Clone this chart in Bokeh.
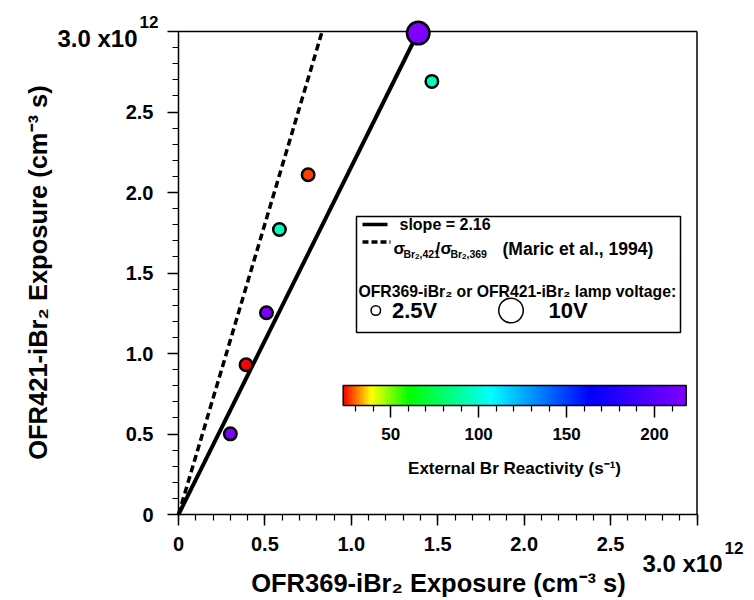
import numpy as np
from bokeh.plotting import figure
from bokeh.models import (ColumnDataSource, LinearColorMapper, Label, FixedTicker,
                          ColorBar, Range1d, PrintfTickFormatter)
from bokeh.embed import file_html
from bokeh.resources import INLINE

# ---------------- data (exposures in units of 1e12 cm^-3 s) ----------------
ofr369_exposure = [0.300, 0.391, 0.509, 0.584, 0.750, 1.387, 1.466]
ofr421_exposure = [0.501, 0.930, 1.253, 1.770, 2.110, 2.990, 2.690]
external_br_reactivity = [217, 23, 217, 95, 27, 217, 95]
lamp_voltage = [2.5, 2.5, 2.5, 2.5, 2.5, 10.0, 2.5]

fit_slope = 2.16
maric_ratio = 3.61

axis_max = 3.0
axis_ticks = [0, 0.5, 1.0, 1.5, 2.0, 2.5, 3.0]
axis_tick_labels = ["0", "0.5", "1.0", "1.5", "2.0", "2.5", ""]
axis_minor_ticks = [round(0.1 * i, 1) for i in range(31)]

cbar_ticks = [50, 100, 150, 200]
cbar_minor_ticks = [30, 40, 60, 70, 80, 90, 110, 120, 130, 140, 160, 170, 180, 190, 210]
cbar_low, cbar_high = 23, 218

legend_voltages = [2.5, 10.0]

# ---------------- style / layout ----------------
FONT = "Liberation Sans"
W, H = 754, 600
FL, FB = 178.0, 514.0          # pixel of data origin
XS = (696.5 - FL) / axis_max   # px per unit (x)
YS = (FB - 31.0) / axis_max    # px per unit (y)
marker_size = {2.5: 12.5, 10.0: 22.5}

anchors = [(0.0, (255, 0, 0)), (0.08, (255, 255, 0)), (0.19, (0, 255, 0)),
           (0.43, (0, 255, 255)), (0.72, (0, 0, 255)), (1.0, (128, 0, 255))]


def build_palette(n=256):
    pos = [a[0] for a in anchors]
    cols = np.array([a[1] for a in anchors], dtype=float)
    out = []
    for t in np.linspace(0, 1, n):
        rgb = [np.interp(t, pos, cols[:, k]) for k in range(3)]
        out.append("#%02x%02x%02x" % tuple(int(round(c)) for c in rgb))
    return out


palette = build_palette()
mapper = LinearColorMapper(palette=palette, low=cbar_low, high=cbar_high)

# the frame covers the whole canvas; axes are pinned at the data origin
p = figure(width=W, height=H,
           x_range=Range1d(-FL / XS, (W - FL) / XS),
           y_range=Range1d(-(H - FB) / YS, FB / YS),
           output_backend="svg", toolbar_location=None,
           min_border_left=0, min_border_right=0, min_border_top=0, min_border_bottom=0)


def dx(px):
    return (px - FL) / XS


def dy(py):
    return (FB - py) / YS


def lab(text, px, py, size, align="left", baseline="middle", angle=0):
    p.add_layout(Label(x=dx(px), y=dy(py), text=text, text_font=FONT,
                       text_font_style="bold", text_font_size=f"{size}px",
                       text_align=align, text_baseline=baseline, text_color="black",
                       angle=angle, angle_units="deg"))


# axes
p.xgrid.visible = False
p.ygrid.visible = False
p.outline_line_color = None
for ax in (p.xaxis[0], p.yaxis[0]):
    ax.fixed_location = 0
    ax.bounds = (0, axis_max)
    ax.ticker = FixedTicker(ticks=axis_ticks, minor_ticks=axis_minor_ticks)
    ax.formatter = PrintfTickFormatter(format="%.1f")
    ax.major_label_overrides = {0: axis_tick_labels[0], 3: axis_tick_labels[-1]}
    ax.major_tick_out = 11
    ax.major_tick_in = 0
    ax.minor_tick_out = 6
    ax.minor_tick_in = 0
    ax.axis_line_width = 1.5
    ax.axis_line_color = "black"
    ax.major_tick_line_width = 1.5
    ax.major_tick_line_color = "black"
    ax.minor_tick_line_width = 1.2
    ax.minor_tick_line_color = "black"
    ax.major_label_text_font = FONT
    ax.major_label_text_font_style = "bold"
    ax.major_label_text_font_size = "20px"
    ax.major_label_text_color = "black"
p.xaxis.major_label_standoff = 11
p.yaxis.major_label_standoff = 14

# frame (top and right edges)
p.segment(x0=[0, axis_max], y0=[axis_max, 0], x1=[axis_max, axis_max],
          y1=[axis_max, axis_max], line_color="black", line_width=1.5)

# reference lines
p.line([0, axis_max / fit_slope], [0, axis_max], line_color="black", line_width=4)
p.line([0, axis_max / maric_ratio], [0, axis_max], line_color="black", line_width=3.5,
       line_dash="7 4")

# data points
src = ColumnDataSource(dict(
    x=ofr369_exposure, y=ofr421_exposure, reactivity=external_br_reactivity,
    size=[marker_size[v] for v in lamp_voltage]))
p.scatter("x", "y", source=src, size="size", marker="circle",
          fill_color={"field": "reactivity", "transform": mapper},
          line_color="black", line_width=2.5)

# legend box
p.quad(left=dx(356), right=dx(680), top=dy(216), bottom=dy(332),
       fill_color="white", line_color="black", line_width=1.5)
p.line([dx(362), dx(387)], [dy(224), dy(224)], line_color="black", line_width=3.3)
p.line([dx(362), dx(390)], [dy(241.5), dy(241.5)], line_color="black",
       line_width=3.3, line_dash="6 3")
lab("slope = 2.16", 399, 224, 16)
# sigma ratio text
lab("σ", 393, 248, 17, baseline="alphabetic")
lab("Br", 403, 253, 10.5, baseline="alphabetic")
lab("2", 414.5, 255.5, 8, baseline="alphabetic")
lab(",421", 419, 253, 10.5, baseline="alphabetic")
lab("/", 435, 248, 17, baseline="alphabetic")
lab("σ", 440, 248, 17, baseline="alphabetic")
lab("Br", 450, 253, 10.5, baseline="alphabetic")
lab("2", 461.5, 255.5, 8, baseline="alphabetic")
lab(",369", 466, 253, 10.5, baseline="alphabetic")
lab("(Maric et al., 1994)", 502, 248, 17.5, baseline="alphabetic")
lab("OFR369-iBr₂ or OFR421-iBr₂ lamp voltage:", 358, 290.5, 15.75)
p.scatter([dx(375.3), dx(510.5)], [dy(310), dy(310)], size=[9.5, 24.5],
          marker="circle", fill_color="white", line_color="black", line_width=1.5)
lab("%.1fV" % legend_voltages[0], 391.5, 310, 22)
lab("%dV" % legend_voltages[1], 548, 310, 22)

# color bar
cb = ColorBar(color_mapper=mapper, orientation="horizontal", width=343, height=20,
              location=(342.7, H - 442), padding=0, margin=0,
              ticker=FixedTicker(ticks=cbar_ticks, minor_ticks=cbar_minor_ticks),
              major_tick_in=0, major_tick_out=12, minor_tick_in=0, minor_tick_out=6,
              major_tick_line_color="black", minor_tick_line_color="black",
              major_tick_line_width=1.5, minor_tick_line_width=1.2,
              bar_line_color="black", bar_line_width=1.5,
              major_label_text_font=FONT, major_label_text_font_style="bold",
              major_label_text_font_size="17px", major_label_text_color="black",
              label_standoff=10, border_line_color=None, background_fill_alpha=0)
p.add_layout(cb)
lab("External Br Reactivity (s⁻¹)", 514, 468, 17, align="center")

# axis titles and exponent labels
lab("OFR369-iBr₂ Exposure (cm⁻³ s)", 438, 582, 25.5, align="center")
lab("OFR421-iBr₂ Exposure (cm⁻³ s)", 37, 272, 25.5, align="center", angle=90)
lab("3.0 x10", 137, 38, 24, align="right")
lab("12", 139, 21, 17)
lab("3.0 x10", 722, 563, 24, align="right")
lab("12", 724, 547, 17)

open("out.html", "w").write(file_html(p, INLINE))
